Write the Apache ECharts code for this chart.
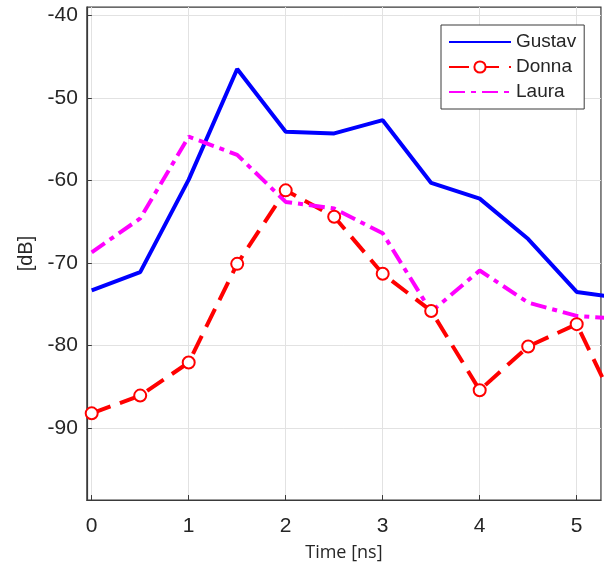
<!DOCTYPE html>
<html>
<head>
<meta charset="utf-8">
<script src="https://cdn.jsdelivr.net/npm/echarts@6/dist/echarts.min.js"></script>
<style>
  html, body { margin: 0; padding: 0; background: #fff; }
  #chart { width: 604px; height: 563px; }
</style>
</head>
<body>
<div id="chart"></div>
<script>
// Time samples [ns]
const time = [0, 0.5, 1, 1.5, 2, 2.5, 3, 3.5, 4, 4.5, 5, 5.5];
// Received level per person [dB]
const gustav = [-73.3, -71.1, -59.9, -46.5, -54.1, -54.3, -52.7, -60.3, -62.2, -67.1, -73.5, -74.3];
const donna  = [-88.2, -86.05, -82.05, -70.1, -61.2, -64.4, -71.3, -75.8, -85.4, -80.1, -77.4, -89.6];
const laura  = [-68.7, -64.6, -54.7, -56.9, -62.6, -63.4, -66.4, -75.9, -70.9, -74.8, -76.4, -76.8];
// Axis ticks
const xTicks = [0, 1, 2, 3, 4, 5];
const yTicks = [-90, -80, -70, -60, -50, -40];

const pairs = arr => time.map((t, i) => [t, arr[i]]);

const frameColor = '#3a3a3a';
const labelFont = 'Liberation Sans, Arial, sans-serif';

const chart = echarts.init(document.getElementById('chart'), null, { renderer: 'canvas' });
chart.setOption({
  animation: false,
  backgroundColor: '#fff',
  grid: {
    left: 86.85, top: 7.04, width: 514.1, height: 493,
    containLabel: false, outerBoundsMode: 'none',
    show: true, borderColor: frameColor, borderWidth: 1.2, backgroundColor: 'transparent'
  },
  legend: {
    orient: 'vertical',
    left: 441, top: 25,
    padding: [7, 8, 7, 7],
    itemWidth: 62, itemHeight: 14, itemGap: 5,
    backgroundColor: '#fff',
    borderColor: frameColor, borderWidth: 1,
    textStyle: { fontFamily: labelFont, fontSize: 19, lineHeight: 20, color: '#262626' },
    data: [
      { name: 'Gustav', itemStyle: { opacity: 0 } },
      { name: 'Donna' },
      { name: 'Laura', itemStyle: { opacity: 0 } }
    ]
  },
  xAxis: {
    type: 'value', min: -0.05, max: 5.25, position: 'bottom',
    name: 'Time [ns]', nameLocation: 'middle', nameGap: 44,
    nameTextStyle: { fontFamily: 'Open Sans, sans-serif', fontSize: 18, color: '#262626' },
    axisLine: { show: true, onZero: false, lineStyle: { color: frameColor, width: 1.2 } },
    axisTick: { show: true, inside: true, length: 5, customValues: xTicks, lineStyle: { color: frameColor } },
    axisLabel: { show: true, customValues: xTicks, margin: 16, fontFamily: labelFont, fontSize: 21, color: '#262626' },
    splitLine: { show: true, lineStyle: { color: '#e2e2e2', width: 1 } }
  },
  yAxis: {
    type: 'value', min: -98.7, max: -39, position: 'left',
    name: '[dB]', nameLocation: 'middle', nameGap: 43, nameRotate: 90,
    nameTextStyle: { fontFamily: labelFont, fontSize: 20, color: '#262626' },
    axisLine: { show: true, onZero: false, lineStyle: { color: frameColor, width: 1.2 } },
    axisTick: { show: true, inside: true, length: 5, customValues: yTicks, lineStyle: { color: frameColor } },
    axisLabel: { show: true, customValues: yTicks, margin: 9, fontFamily: labelFont, fontSize: 21, color: '#262626' },
    splitLine: { show: true, lineStyle: { color: '#e2e2e2', width: 1 } }
  },
  series: [
    {
      name: 'Gustav', type: 'line', data: pairs(gustav),
      showSymbol: false, symbol: 'circle',
      lineStyle: { color: '#0000ff', width: 4 },
      itemStyle: { color: '#0000ff' }
    },
    {
      name: 'Donna', type: 'line', data: pairs(donna),
      symbol: 'emptyCircle', symbolSize: 12,
      lineStyle: { color: '#ff0000', width: 4, type: [20, 10] },
      itemStyle: { color: '#ff0000', borderColor: '#ff0000', borderWidth: 3 }
    },
    {
      name: 'Laura', type: 'line', data: pairs(laura),
      showSymbol: false, symbol: 'circle',
      lineStyle: { color: '#ff00ff', width: 4, type: [16, 6, 5, 6] },
      itemStyle: { color: '#ff00ff' }
    }
  ]
});
</script>
</body>
</html>
